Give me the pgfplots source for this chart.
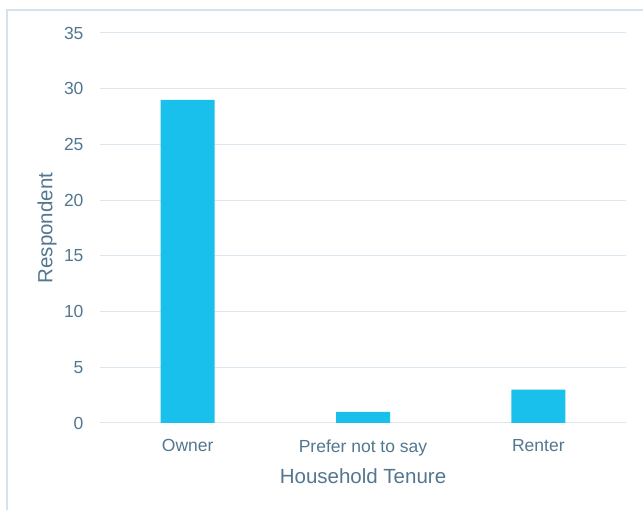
\documentclass[border=0pt]{standalone}
\usepackage{pgfplots}
\pgfplotsset{compat=1.18}
\usepackage{fontspec}
\setmainfont{Liberation Sans}

\definecolor{barblue}{HTML}{19C0EC}
\definecolor{txt}{HTML}{52778F}
\definecolor{gridc}{HTML}{DCE7EF}
\definecolor{framec}{HTML}{D3E2EC}

\begin{document}
\begin{tikzpicture}
\useasboundingbox (-100pt,-87pt) rectangle (543pt,423pt);
\draw[framec, line width=1.2pt] (-93pt,-87pt) -- (-93pt,413pt) -- (543pt,413pt);

\begin{axis}[
	at={(0pt,0pt)}, anchor=south west,
	scale only axis,
	width=526pt, height=390pt,
	xmin=-0.5, xmax=2.5,
	ymin=0, ymax=35,
	xtick={0,1,2},
	xticklabels={Owner, Prefer not to say, Renter},
	ytick={0,5,...,35},
	axis line style={draw=none},
	major tick length=0pt,
	ymajorgrids,
	grid style={gridc, line width=1pt},
	tick label style={txt, font=\fontsize{17.5}{20}\selectfont},
	/pgf/number format/assume math mode=true,
	yticklabel style={xshift=-13pt},
	xticklabel style={yshift=-13pt},
	xlabel={Household Tenure},
	ylabel={Respondent},
	label style={txt, font=\fontsize{20.5}{24}\selectfont},
	xlabel style={at={([yshift=-53pt]axis description cs:0.5,0)}, anchor=center},
	ylabel style={at={([xshift=-53pt]axis description cs:0,0.5)}, anchor=center},
	clip=false,
]
\addplot[ybar, bar width=54pt, fill=barblue, draw=none] coordinates {
	(0,29)
	(1,1)
	(2,3)
};
\end{axis}
\end{tikzpicture}
\end{document}
